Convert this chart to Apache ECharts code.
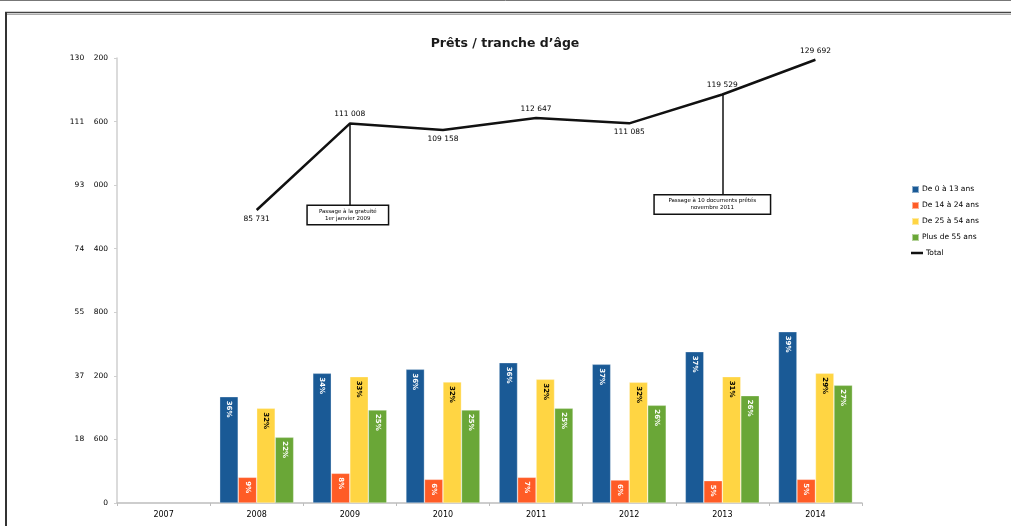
<!DOCTYPE html>
<html>
<head>
<meta charset="utf-8">
<script src="https://cdn.jsdelivr.net/npm/echarts@6/dist/echarts.min.js"></script>
<style>html,body{margin:0;padding:0;background:#fff}#c{width:1011px;height:526px}</style>
</head>
<body>
<div id="c"></div>
<script>
const years = ['2007','2008','2009','2010','2011','2012','2013','2014'];
const age0_13  = [null, 31100, 37950, 39120, 41050, 40580, 44270, 50120];
const age14_24 = [null, 7520, 8690, 6930, 7520, 6730, 6530, 6930];
const age25_54 = [null, 27710, 36960, 35400, 36190, 35310, 36960, 37950];
const age55p   = [null, 19220, 27210, 27210, 27710, 28590, 31400, 34440];
const total    = [null, 85731, 111008, 109158, 112647, 111085, 119529, 129692];
const totalLabelPos = [null, 'bottom', 'top', 'bottom', 'top', 'bottom', 'top', 'top'];
const seriesNames = ['De 0 à 13 ans', 'De 14 à 24 ans', 'De 25 à 54 ans', 'Plus de 55 ans', 'Total'];
const colors = ['#1a5a96', '#ff5c26', '#ffd543', '#6aa737'];
const yTicks = [0, 18600, 37200, 55800, 74400, 93000, 111600, 130200];
const notes = [
  {year: '2009', from: 111008, at: 84300, text: 'Passage à la gratuité\n1er janvier 2009', w: 76, dx: -2},
  {year: '2013', from: 119529, at: 87340, text: 'Passage à 10 documents prêtés\nnovembre 2011', w: 111, dx: -10}
];

const chart = echarts.init(document.getElementById('c'));
const FONT = 'DejaVu Sans';
function fmtNum(v) {
  if (v === 0) return '0';
  const t = Math.floor(v / 1000), r = v % 1000;
  return t + '    ' + String(r).padStart(3, '0');
}
function fmtLbl(v) {
  const t = Math.floor(v / 1000), r = v % 1000;
  return t + ' ' + String(r).padStart(3, '0');
}
const barData = [age0_13, age14_24, age25_54, age55p];
const barSeries = barData.map((arr, i) => ({
  name: seriesNames[i],
  type: 'bar',
  data: arr,
  barWidth: 18.5,
  barGap: '0%',
  itemStyle: {color: colors[i], borderColor: 'rgba(255,255,255,0.5)', borderWidth: 0.6},
  label: {
    show: true,
    position: 'insideTop',
    distance: 4,
    rotate: -90,
    align: 'left',
    verticalAlign: 'middle',
    fontFamily: FONT,
    fontSize: 7,
    fontWeight: 'bold',
    color: i === 2 ? '#000' : '#fff',
    formatter: p => Math.round(p.value / total[p.dataIndex] * 100) + '%'
  }
}));

chart.setOption({
  animation: false,
  backgroundColor: '#fff',
  color: colors.concat(['#111']),
  title: {
    text: 'Prêts / tranche d\u2019âge',
    left: 500, top: 32, textAlign: 'center',
    textStyle: {fontFamily: FONT, fontSize: 12.5, fontWeight: 'bold', color: '#1a1a1a'}
  },
  legend: [{
    orient: 'vertical', left: 906, top: 180,
    itemWidth: 7, itemHeight: 7, itemGap: 7,
    icon: 'rect',
    data: seriesNames.slice(0, 4),
    textStyle: {fontFamily: FONT, fontSize: 7.5, color: '#000', padding: [0, 0, 0, -2]}
  }, {
    orient: 'vertical', left: 906, top: 244,
    itemWidth: 12, itemHeight: 2.5,
    icon: 'rect',
    data: ['Total'],
    textStyle: {fontFamily: FONT, fontSize: 7.5, color: '#000', padding: [0, 0, 0, -2]}
  }],
  grid: {left: 117, right: 149, top: 58, bottom: 23, containLabel: false},
  xAxis: {
    type: 'category',
    data: years,
    axisLine: {lineStyle: {color: '#bdbdbd', width: 1.5}},
    axisTick: {show: true, length: 3, lineStyle: {color: '#bdbdbd'}},
    axisLabel: {fontFamily: FONT, fontSize: 8, color: '#000', margin: 8}
  },
  yAxis: {
    type: 'value',
    min: 0, max: 130200, interval: 18600,
    axisLine: {show: true, lineStyle: {color: '#cfcfcf', width: 1.5}},
    axisTick: {show: true, length: 3, lineStyle: {color: '#cfcfcf'}},
    splitLine: {show: false},
    axisLabel: {fontFamily: FONT, fontSize: 7.5, color: '#000', margin: 9,
      formatter: v => yTicks.includes(v) ? fmtNum(v) : ''}
  },
  series: barSeries.concat([{
    name: 'Total',
    type: 'line',
    data: total.map((v, i) => v === null ? null : {value: v, label: {position: totalLabelPos[i]}}),
    showSymbol: true,
    symbol: 'circle',
    symbolSize: 0.1,
    connectNulls: false,
    lineStyle: {color: '#111', width: 2.5},
    itemStyle: {color: '#111'},
    label: {show: true, fontFamily: FONT, fontSize: 7.5, color: '#000', distance: 5,
      formatter: p => fmtLbl(p.value)},
    z: 5,
    markLine: {
      silent: true, symbol: 'none',
      lineStyle: {color: '#111', width: 1.5, type: 'solid'},
      label: {show: false},
      data: notes.map(n => [{coord: [n.year, n.from]}, {coord: [n.year, n.at]}])
    },
    markPoint: {
      silent: true,
      symbol: 'circle',
      symbolSize: 0,
      data: notes.map(n => ({
        coord: [n.year, n.at],
        label: {show: true, position: 'inside', formatter: n.text, fontFamily: FONT,
          fontSize: 5.5, lineHeight: 7, color: '#000', align: 'center', offset: [n.dx, 0],
          width: n.w, backgroundColor: '#fff', borderColor: '#111', borderWidth: 1.5,
          padding: [2, 2, 2, 2]}
      }))
    }
  }]),
  graphic: [
    {type: 'line', shape: {x1: 0, y1: 0.5, x2: 1011, y2: 0.5}, style: {stroke: '#777', lineWidth: 1}},
    {type: 'line', shape: {x1: 5, y1: 12.5, x2: 1011, y2: 12.5}, style: {stroke: '#444', lineWidth: 1.5}},
    {type: 'line', shape: {x1: 7, y1: 14.5, x2: 1011, y2: 14.5}, style: {stroke: '#aaa', lineWidth: 1}},
    {type: 'line', shape: {x1: 6, y1: 12, x2: 6, y2: 526}, style: {stroke: '#333', lineWidth: 2}}
  ]
});
</script>
</body>
</html>
